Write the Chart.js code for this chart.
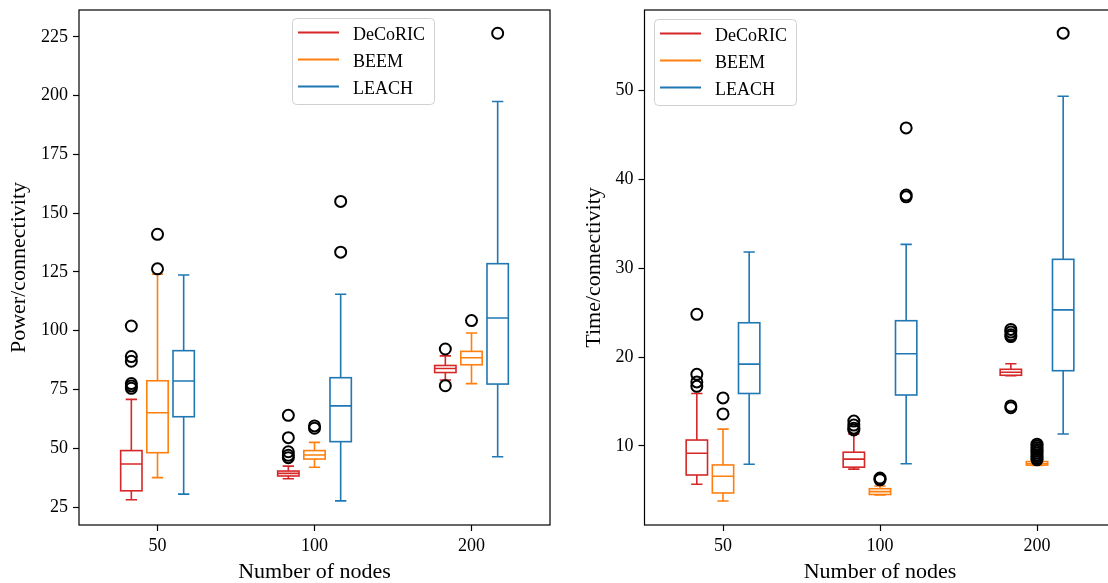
<!DOCTYPE html>
<html>
<head>
<meta charset="utf-8">
<script src="https://cdn.jsdelivr.net/npm/chart.js@4.4.1/dist/chart.umd.min.js"></script>
<style>
    html, body { margin: 0; padding: 0; background: #fff; overflow: hidden; }
    #wrap { position: relative; width: 1108px; height: 583px; overflow: hidden; }
    #powerChart { position: absolute; left: 0; top: 0; }
    #timeChart { position: absolute; left: 575px; top: 0; }
</style>
</head>
<body>
<div id="wrap">
    <canvas id="powerChart" width="560" height="583"></canvas>
    <canvas id="timeChart" width="560" height="583"></canvas>
</div>
<script>
const nodeCounts = ['50', '100', '200'];
const seriesNames = ['DeCoRIC', 'BEEM', 'LEACH'];
const seriesColors = ['#d62728', '#ff7f0e', '#1f77b4'];

// box stats for each node count: [whisker low, q1, median, q3, whisker high]
const powerDeCoRIC = [[28.1, 31.9, 43.3, 49.0, 70.8], [37.0, 38.2, 39.3, 40.3, 42.4], [79.0, 82.2, 83.9, 85.2, 89.3]];
const powerBEEM = [[37.5, 48.1, 65.1, 78.7, 124.0], [41.9, 45.4, 47.1, 49.0, 52.5], [77.5, 85.5, 88.5, 91.2, 99.0]];
const powerLEACH = [[30.5, 63.4, 78.6, 91.5, 123.7], [27.6, 52.8, 68.0, 80.0, 115.5], [46.4, 77.3, 105.4, 128.5, 197.5]];
const powerDeCoRICOut = [[102, 89, 87, 77.5, 76.5, 75.5], [64, 54.5, 48.5, 47, 46], [92.2, 76.6]];
const powerBEEMOut = [[141, 126.3], [59.5, 58.5], [104.3]];
const powerLEACHOut = [[], [155, 133.4], [226.5]];

const timeDeCoRIC = [[5.7, 6.74, 9.18, 10.67, 15.9], [7.4, 7.62, 8.52, 9.3, 11.35], [17.9, 17.95, 18.28, 18.62, 19.25]];
const timeBEEM = [[3.82, 4.72, 6.6, 7.87, 11.9], [4.5, 4.55, 4.87, 5.2, 5.5], [7.8, 7.85, 8.0, 8.25, 8.3]];
const timeLEACH = [[7.94, 15.9, 19.2, 23.85, 31.8], [8.0, 15.73, 20.37, 24.08, 32.66], [11.35, 18.46, 25.3, 30.98, 49.3]];
const timeDeCoRICOut = [[24.8, 18.05, 17.2, 16.7], [12.8, 12.35, 12.0, 11.8], [23.1, 22.8, 22.5, 22.3, 14.5, 14.3]];
const timeBEEMOut = [[15.4, 13.6], [6.4, 6.3, 6.2], [10.2, 10.0, 9.8, 9.6, 9.4, 9.2, 9.0, 8.8, 8.6, 8.45]];
const timeLEACHOut = [[], [45.75, 38.2, 38.0], [56.4]];

const powerTicks = [25, 50, 75, 100, 125, 150, 175, 200, 225];
const timeTicks = [10, 20, 30, 40, 50];
const powerRange = [17.35, 236.4];
const timeRange = [1.12, 59.0];

const FONT = "'Liberation Serif', 'Times New Roman', serif";
const seriesOffset = [-1 / 6, 0, 1 / 6];   // box position inside a group
const boxHalf = 0.068;
const capHalf = 0.036;

const boxPlugin = {
    id: 'boxes',
    beforeDatasetsDraw(chart, args, opts) {
        const {ctx, scales: {x, y}} = chart;
        ctx.save();
        ctx.lineWidth = 1.6;
        opts.boxes.forEach((stats, s) => {
            ctx.strokeStyle = seriesColors[s];
            stats.forEach((st, g) => {
                let c = g + 1 + seriesOffset[s];
                let xc = x.getPixelForValue(c);
                let x0 = x.getPixelForValue(c - boxHalf), x1 = x.getPixelForValue(c + boxHalf);
                let c0 = x.getPixelForValue(c - capHalf), c1 = x.getPixelForValue(c + capHalf);
                let [lo, q1, med, q3, hi] = st.map(v => y.getPixelForValue(v));
                ctx.beginPath();
                // whiskers
                ctx.moveTo(xc, q1); ctx.lineTo(xc, lo);
                ctx.moveTo(xc, q3); ctx.lineTo(xc, hi);
                // caps
                ctx.moveTo(c0, lo); ctx.lineTo(c1, lo);
                ctx.moveTo(c0, hi); ctx.lineTo(c1, hi);
                // median
                ctx.moveTo(x0, med); ctx.lineTo(x1, med);
                ctx.stroke();
                ctx.strokeRect(x0, q3, x1 - x0, q1 - q3);
            });
        });
        ctx.restore();
    },
    afterDraw(chart, args, opts) {
        const {ctx, chartArea: a} = chart;
        ctx.save();
        // frame
        ctx.strokeStyle = '#000';
        ctx.lineWidth = 1.2;
        ctx.strokeRect(a.left, a.top, a.right - a.left, a.bottom - a.top);

        // legend
        ctx.font = '18px ' + FONT;
        let tw = Math.max(...seriesNames.map(n => ctx.measureText(n).width));
        let lx = a.left + opts.legendX, ly = a.top + opts.legendY;
        let w = 6 + 41 + 14 + tw + 9, h = 86;
        ctx.beginPath();
        ctx.roundRect(lx + 0.5, ly + 0.5, w, h, 4);
        ctx.fillStyle = 'rgba(255,255,255,0.8)';
        ctx.fill();
        ctx.strokeStyle = '#d0d0d0';
        ctx.lineWidth = 1;
        ctx.stroke();
        seriesNames.forEach((name, i) => {
            let ry = ly + 14.4 + i * 27;
            ctx.strokeStyle = seriesColors[i];
            ctx.lineWidth = 2;
            ctx.beginPath();
            ctx.moveTo(lx + 6, ry);
            ctx.lineTo(lx + 47, ry);
            ctx.stroke();
            ctx.fillStyle = '#000';
            ctx.textBaseline = 'alphabetic';
            ctx.fillText(name, lx + 61, ry + 7.5);
        });
        ctx.restore();
    }
};

function outlierSets(outs) {
    return outs.map((perGroup, s) => ({
        label: seriesNames[s] + ' outliers',
        data: perGroup.flatMap((vals, g) => vals.map(v => ({x: g + 1 + seriesOffset[s], y: v}))),
        pointStyle: 'circle',
        pointRadius: 5.5,
        pointBorderWidth: 2,
        borderColor: '#000',
        backgroundColor: 'rgba(0,0,0,0)',
        showLine: false
    }));
}

function createBoxChart(canvasId, cfg) {
    return new Chart(canvasId, {
        type: 'scatter',
        data: {datasets: outlierSets(cfg.outliers)},
        plugins: [boxPlugin],
        options: {
            responsive: false,
            animation: false,
            events: [],
            layout: {padding: cfg.padding},
            scales: {
                x: {
                    type: 'linear',
                    min: 0.5,
                    max: 3.5,
                    afterBuildTicks: s => { s.ticks = nodeCounts.map((n, i) => ({value: i + 1})); },
                    afterFit: s => { s.height = 58; s.paddingLeft = 0; s.paddingRight = 0; },
                    ticks: {
                        callback: v => nodeCounts[v - 1],
                        color: '#000',
                        padding: 4,
                        maxRotation: 0,
                        font: {family: FONT, size: 18}
                    },
                    grid: {drawOnChartArea: false, drawTicks: true, tickLength: 6, color: '#000', tickWidth: 1.2},
                    border: {display: false},
                    title: {
                        display: true,
                        text: 'Number of nodes',
                        color: '#000',
                        padding: {top: 0, bottom: 0},
                        font: {family: FONT, size: 22, lineHeight: 1}
                    }
                },
                y: {
                    type: 'linear',
                    min: cfg.range[0],
                    max: cfg.range[1],
                    afterBuildTicks: s => { s.ticks = cfg.ticks.map(v => ({value: v})); },
                    afterFit: s => { s.width = cfg.yWidth; s.paddingTop = 0; s.paddingBottom = 0; },
                    ticks: {
                        color: '#000',
                        padding: 5,
                        font: {family: FONT, size: 18}
                    },
                    grid: {drawOnChartArea: false, drawTicks: true, tickLength: 6, color: '#000', tickWidth: 1.2},
                    border: {display: false},
                    title: {
                        display: true,
                        text: cfg.title,
                        color: '#000',
                        padding: {top: 6, bottom: 0},
                        font: {family: FONT, size: 22, lineHeight: 1.2}
                    }
                }
            },
            plugins: {
                legend: {display: false},
                tooltip: {enabled: false},
                boxes: {boxes: cfg.boxes, legendX: cfg.legendX, legendY: cfg.legendY}
            }
        }
    });
}

createBoxChart('powerChart', {
    title: 'Power/connectivity',
    boxes: [powerDeCoRIC, powerBEEM, powerLEACH],
    outliers: [powerDeCoRICOut, powerBEEMOut, powerLEACHOut],
    ticks: powerTicks,
    range: powerRange,
    yWidth: 79,
    padding: {top: 10, right: 10, left: 0, bottom: 0},
    legendX: 213,
    legendY: 8
});

createBoxChart('timeChart', {
    title: 'Time/connectivity',
    boxes: [timeDeCoRIC, timeBEEM, timeLEACH],
    outliers: [timeDeCoRICOut, timeBEEMOut, timeLEACHOut],
    ticks: timeTicks,
    range: timeRange,
    yWidth: 69.5,
    padding: {top: 10, right: 19.5, left: 0, bottom: 0},
    legendX: 9.5,
    legendY: 9
});
</script>
</body>
</html>
